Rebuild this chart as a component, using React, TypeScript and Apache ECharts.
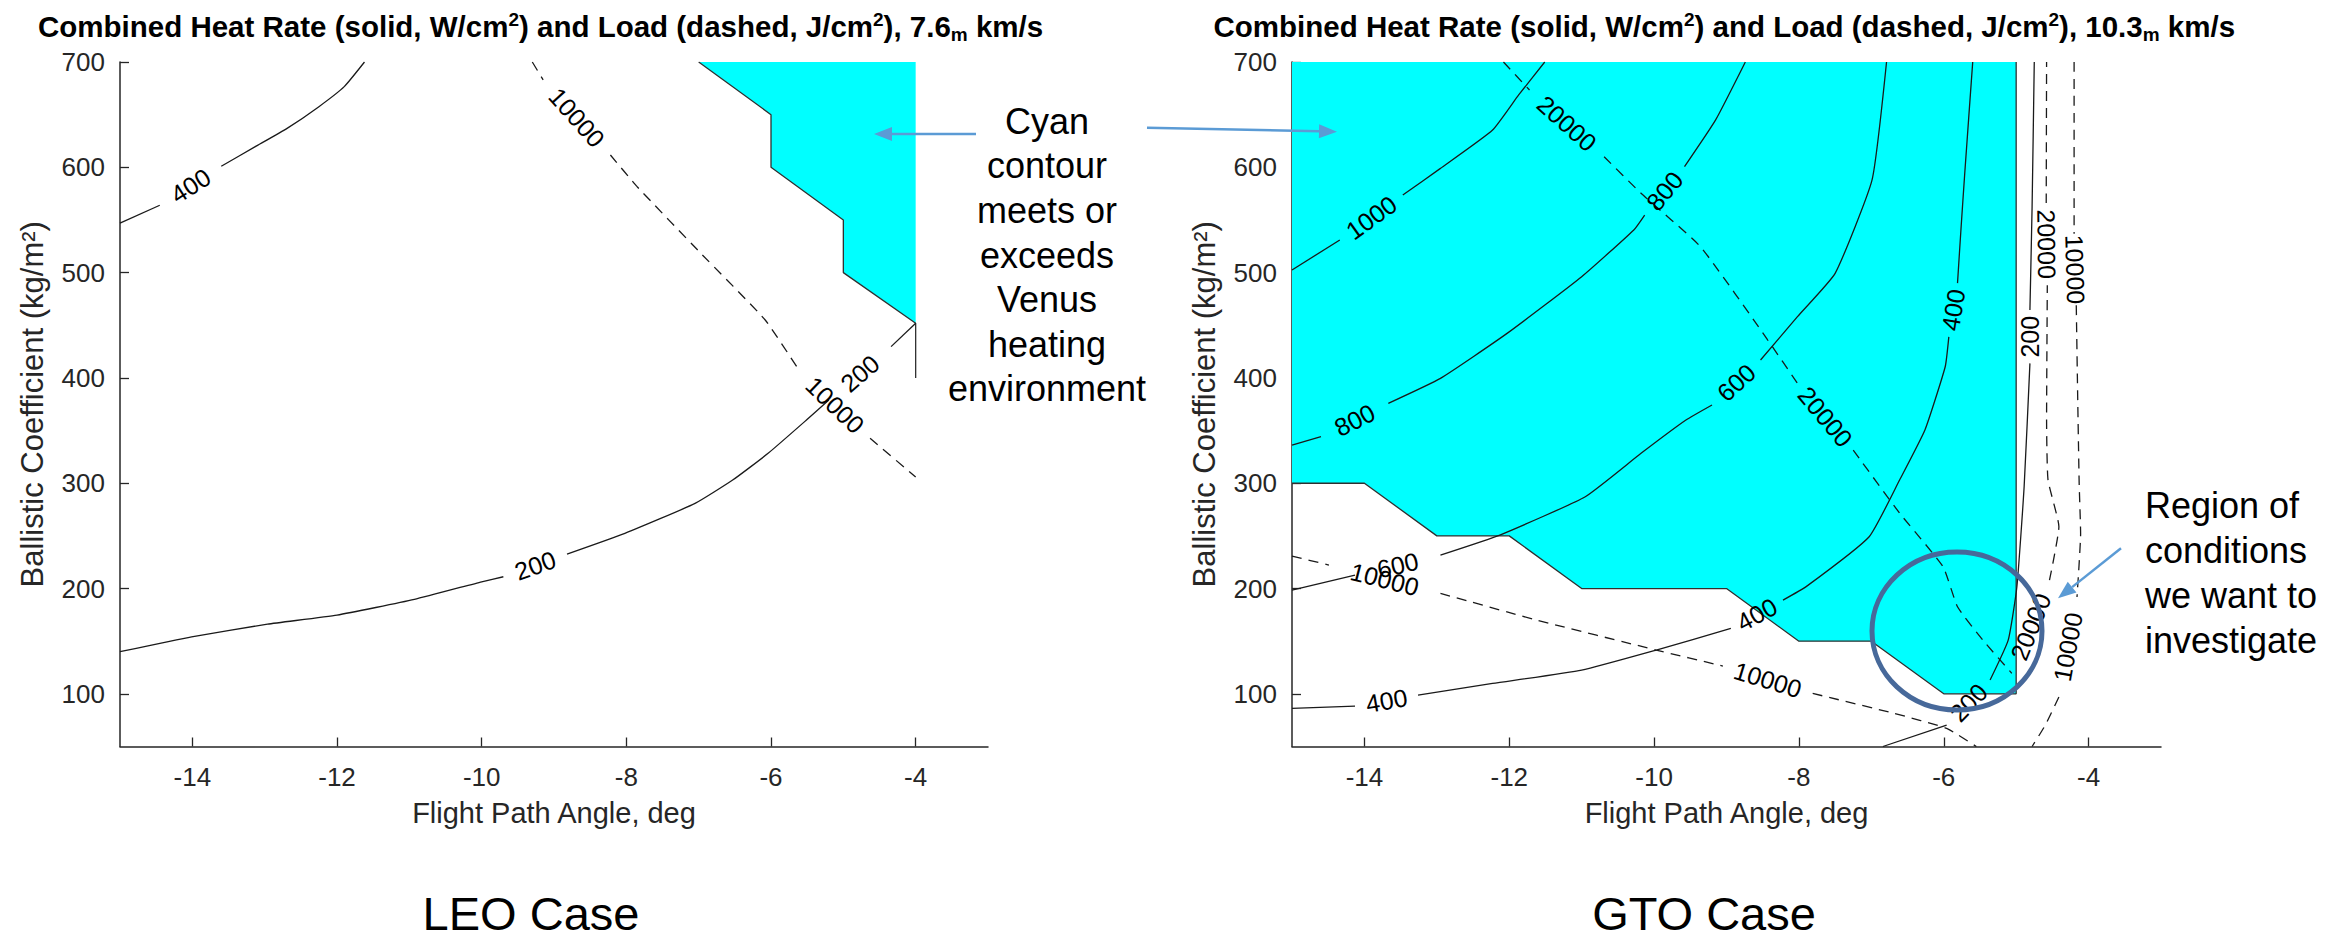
import React, { useEffect, useRef } from "react";
import * as echarts from "echarts";

const FONT = "'Liberation Sans', Arial, Helvetica, sans-serif";

// ---- axis ticks ----
const xTicks = [-14, -12, -10, -8, -6, -4];
const yTicks = [100, 200, 300, 400, 500, 600, 700];

// ---- titles ----
const leoTitle = "Combined Heat Rate (solid, W/cm{sup|2}) and Load (dashed, J/cm{sup|2}), 7.6{sub|m} km/s";
const gtoTitle = "Combined Heat Rate (solid, W/cm{sup|2}) and Load (dashed, J/cm{sup|2}), 10.3{sub|m} km/s";

type P = [number, number] | null;

// ---- LEO case (left) ----
const leoCyan: [number, number][] = [[-7, 700], [-4, 700], [-4, 452], [-5, 500], [-5, 550], [-6, 600], [-6, 650]];
const leoEdge: [number, number][] = [[-7, 700], [-6, 650], [-6, 600], [-5, 550], [-5, 500], [-4, 452], [-4, 400]];
const leoRate400: P[] = [[-15, 547], [-14.45, 564], null, [-13.6, 601], [-13.13, 619.6], [-12.69, 637], [-12.25, 657.6], [-11.9, 676.6], [-11.62, 700]];
const leoRate200: P[] = [[-15, 140], [-14.01, 154.2], [-12.96, 166.2], [-12.0, 174.8], [-10.93, 189.7], [-10.0, 206.4], [-9.7, 211.2], null, [-8.82, 232.7], [-8.02, 252.4], [-7.05, 280.8], [-6.53, 303], [-6.04, 328.4], [-5.51, 360], [-5.2, 379], null, [-4.34, 429.7], [-4, 452]];
const leoLoad10000: P[] = [[-9.3, 700], [-9.15, 683], null, [-8.22, 611.7], [-7.85, 581.6], [-6.97, 518.3], [-6.08, 455], [-5.6, 406], null, [-4.63, 342.6], [-4, 306]];

// ---- GTO case (right) ----
const gtoCyan: [number, number][] = [[-15, 700], [-5, 700], [-5, 100], [-6, 100], [-7, 150], [-8, 150], [-9, 200], [-11, 200], [-12, 250], [-13, 250], [-14, 300], [-15, 300]];
const gtoEdge: [number, number][] = [[-15, 300], [-14, 300], [-13, 250], [-12, 250], [-11, 200], [-9, 200], [-8, 150], [-7, 150], [-6, 100], [-5, 100], [-5, 700]];
const gtoRate1000: P[] = [[-15, 502.5], [-14.34, 531], null, [-13.47, 573.7], [-12.95, 599], [-12.23, 635.4], [-11.87, 668.7], [-11.51, 700]];
const gtoRate800: P[] = [[-15, 336.3], [-14.6, 344.2], null, [-13.67, 375.9], [-12.95, 399.6], [-12.03, 442.3], [-11.0, 496.1], [-10.28, 540.5], [-10.13, 554.7], null, [-9.58, 600.6], [-9.15, 645], [-8.74, 700]];
const gtoRate600: P[] = [[-15, 198.5], [-14.13, 212.8], null, [-12.95, 231.8], [-12.13, 250.8], [-10.95, 287.2], [-10.18, 328.4], [-9.56, 360], [-9.2, 374.3], null, [-8.53, 417], [-8.02, 458.2], [-7.5, 499.3], [-6.99, 588], [-6.79, 700]];
const gtoRate400: P[] = [[-15, 86.2], [-14.13, 88.4], null, [-13.26, 98.8], [-12.23, 109.9], [-11.0, 122.6], [-9.97, 141.6], [-8.94, 162.1], null, [-8.22, 189], [-7.9, 201.8], [-7.03, 249.2], [-6.61, 303], [-6.26, 350.5], [-5.98, 410.6], [-5.93, 439], null, [-5.81, 490], [-5.76, 543.6], [-5.71, 594.3], [-5.6, 700]];
const gtoRate200: P[] = [[-6.84, 50], [-5.96, 70.3], null, [-5.36, 113.1], [-5.11, 151], [-4.99, 201.7], [-4.89, 296.6], [-4.81, 413.8], null, [-4.81, 464.5], [-4.78, 562.6], [-4.75, 700]];
const gtoLoad20000: P[] = [[-12.08, 700], [-11.72, 673.4], null, [-10.69, 610.1], [-10.18, 575.3], [-9.36, 524.6], [-8.43, 436], [-8.02, 394.8], null, [-7.25, 331.5], [-6.61, 271.6], [-6.01, 220.7], [-5.81, 182.7], [-5.46, 151], [-5.06, 119.5], null, [-4.54, 208], [-4.41, 258.7], [-4.56, 303], [-4.58, 360], [-4.57, 488], null, [-4.585, 566], [-4.58, 700]];
const gtoLoad10000v: P[] = [[-4.2, 700], [-4.2, 537], null, [-4.17, 469], [-4.15, 380], [-4.13, 300], [-4.11, 252], [-4.16, 192], null, [-4.41, 97], [-4.6, 70], [-4.78, 50]];
const gtoLoad10000: P[] = [[-15, 230.8], [-14.49, 222.3], null, [-12.95, 195.4], [-11.62, 170], [-9.97, 141.6], [-9.05, 126.4], null, [-7.81, 100.4], [-6.68, 81.4], [-5.96, 67.2], [-5.55, 50]];

const regions = [
  { grid: 0, pts: leoCyan, edge: leoEdge },
  { grid: 1, pts: gtoCyan, edge: gtoEdge },
];

const contourDefs = [
  { grid: 0, level: "400", dashed: false, pts: leoRate400 },
  { grid: 0, level: "200", dashed: false, pts: leoRate200 },
  { grid: 0, level: "10000", dashed: true, pts: leoLoad10000 },
  { grid: 1, level: "1000", dashed: false, pts: gtoRate1000 },
  { grid: 1, level: "800", dashed: false, pts: gtoRate800 },
  { grid: 1, level: "600", dashed: false, pts: gtoRate600 },
  { grid: 1, level: "400", dashed: false, pts: gtoRate400 },
  { grid: 1, level: "200", dashed: false, pts: gtoRate200 },
  { grid: 1, level: "20000", dashed: true, pts: gtoLoad20000 },
  { grid: 1, level: "10000", dashed: true, pts: gtoLoad10000v },
  { grid: 1, level: "10000", dashed: true, pts: gtoLoad10000 },
];

const cyanNote = "Cyan\ncontour\nmeets or\nexceeds\nVenus\nheating\nenvironment";
const regionNote = "Region of\nconditions\nwe want to\ninvestigate";

function splitSegments(pts: P[]): [number, number][][] {
  const segs: [number, number][][] = [];
  let cur: [number, number][] = [];
  pts.forEach((p) => {
    if (p === null) {
      if (cur.length) segs.push(cur);
      cur = [];
    } else cur.push(p);
  });
  if (cur.length) segs.push(cur);
  return segs;
}

function arrow(x1: number, y1: number, x2: number, y2: number) {
  const color = "#5b9bd5";
  const ang = Math.atan2(y2 - y1, x2 - x1);
  const hl = 18, hw = 7;
  const bx = x2 - hl * Math.cos(ang), by = y2 - hl * Math.sin(ang);
  const nx = -Math.sin(ang) * hw, ny = Math.cos(ang) * hw;
  return [
    { type: "line", z: 20, shape: { x1, y1, x2: bx, y2: by }, style: { stroke: color, lineWidth: 2.5 } },
    { type: "polygon", z: 20, shape: { points: [[x2, y2], [bx + nx, by + ny], [bx - nx, by - ny]] }, style: { fill: color } },
  ];
}

const axisColor = "#262626";

function makeX(g: number) {
  return {
    type: "value", gridIndex: g, min: -15, max: -3,
    axisLine: { show: true, onZero: false, lineStyle: { color: axisColor, width: 1.5 } },
    axisTick: { show: true, inside: true, length: 9, customValues: xTicks, lineStyle: { color: axisColor, width: 1.3 } },
    axisLabel: { customValues: xTicks, fontSize: 26, color: axisColor, margin: 17, fontFamily: FONT },
    splitLine: { show: false },
    name: "Flight Path Angle, deg", nameLocation: "middle", nameGap: 52,
    nameTextStyle: { fontSize: 29, color: axisColor, fontFamily: FONT },
  };
}
function makeY(g: number) {
  return {
    type: "value", gridIndex: g, min: 50, max: 700,
    axisLine: { show: true, onZero: false, lineStyle: { color: axisColor, width: 1.5 } },
    axisTick: { show: true, inside: true, length: 9, customValues: yTicks, lineStyle: { color: axisColor, width: 1.3 } },
    axisLabel: { customValues: yTicks, fontSize: 26, color: axisColor, margin: 15, fontFamily: FONT },
    splitLine: { show: false },
    name: "Ballistic Coefficient (kg/m²)", nameLocation: "middle", nameGap: 72, nameRotate: 90,
    nameTextStyle: { fontSize: 31, color: axisColor, fontFamily: FONT },
  };
}

export default function App() {
  const ref = useRef<HTMLDivElement>(null);
  useEffect(() => {
    if (!ref.current) return;
    const chart = echarts.init(ref.current, null, { renderer: "svg" });
    const series: any[] = [];
    regions.forEach((r) => {
      series.push({
        type: "custom", xAxisIndex: r.grid, yAxisIndex: r.grid, data: r.pts, z: 1, silent: true,
        renderItem: (params: any, api: any) => {
          if (params.dataIndex !== 0) return null;
          return { type: "polygon", shape: { points: r.pts.map((p) => api.coord(p)) }, style: { fill: "#00FFFF" } };
        },
      });
      series.push({
        type: "line", xAxisIndex: r.grid, yAxisIndex: r.grid, data: r.edge, symbol: "none", silent: true, z: 2,
        lineStyle: { color: "#303030", width: 1.3 },
      });
    });
    contourDefs.forEach((c) => {
      splitSegments(c.pts).forEach((seg) => {
        series.push({
          type: "line", xAxisIndex: c.grid, yAxisIndex: c.grid, data: seg, symbol: "none", smooth: 0.15,
          silent: true, z: 3,
          lineStyle: { color: "#1a1a1a", width: 1.3, type: c.dashed ? [10, 7] : "solid" },
        });
      });
    });

    chart.setOption({
      animation: false,
      backgroundColor: "#ffffff",
      textStyle: { fontFamily: FONT },
      grid: [
        { left: 120, top: 62, width: 868, height: 684.5, containLabel: false, outerBoundsMode: "none" },
        { left: 1292, top: 62, width: 869, height: 684.5, containLabel: false, outerBoundsMode: "none" },
      ],
      xAxis: [makeX(0), makeX(1)],
      yAxis: [makeY(0), makeY(1)],
      series,
    });

    const graphics: any[] = [];
    // contour labels, placed in the gaps of each contour line
    contourDefs.forEach((c) => {
      const segs = splitSegments(c.pts);
      for (let i = 0; i < segs.length - 1; i++) {
        const p1 = segs[i][segs[i].length - 1];
        const p2 = segs[i + 1][0];
        const a = chart.convertToPixel({ xAxisIndex: c.grid, yAxisIndex: c.grid } as any, p1) as number[];
        const b = chart.convertToPixel({ xAxisIndex: c.grid, yAxisIndex: c.grid } as any, p2) as number[];
        let ang = Math.atan2(-(b[1] - a[1]), b[0] - a[0]);
        if (ang > Math.PI / 2 + 1e-9) ang -= Math.PI;
        else if (ang <= -Math.PI / 2) ang += Math.PI;
        graphics.push({
          type: "text", x: (a[0] + b[0]) / 2, y: (a[1] + b[1]) / 2, rotation: ang, z: 10, silent: true,
          style: { text: c.level, fontSize: 25, fontFamily: FONT, fill: "#000", align: "center", verticalAlign: "middle" },
        });
      }
    });

    const titleStyle = (text: string, x: number) => ({
      type: "text", x, y: 9.8, z: 10, silent: true,
      style: {
        text, fontSize: 29.5, fontWeight: "bold", fontFamily: FONT, lineHeight: 34, fill: "#000",
        align: "left", verticalAlign: "top",
        rich: {
          sup: { fontSize: 19, fontWeight: "bold", fontFamily: FONT, lineHeight: 17, verticalAlign: "top", fill: "#000" },
          sub: { fontSize: 19, fontWeight: "bold", fontFamily: FONT, lineHeight: 15, verticalAlign: "bottom", fill: "#000" },
        },
      },
    });
    graphics.push(titleStyle(leoTitle, 38));
    graphics.push(titleStyle(gtoTitle, 1213.5));

    graphics.push({
      type: "text", x: 1047, y: 99, z: 20, silent: true,
      style: { text: cyanNote, fontSize: 36, fontFamily: FONT, lineHeight: 44.6, fill: "#000", align: "center", verticalAlign: "top" },
    });
    graphics.push({
      type: "text", x: 2145, y: 483, z: 20, silent: true,
      style: { text: regionNote, fontSize: 36, fontFamily: FONT, lineHeight: 45, fill: "#000", align: "left", verticalAlign: "top" },
    });
    graphics.push({
      type: "text", x: 531, y: 913, z: 20, silent: true,
      style: { text: "LEO Case", fontSize: 47, fontFamily: FONT, fill: "#000", align: "center", verticalAlign: "middle" },
    });
    graphics.push({
      type: "text", x: 1704, y: 913, z: 20, silent: true,
      style: { text: "GTO Case", fontSize: 47, fontFamily: FONT, fill: "#000", align: "center", verticalAlign: "middle" },
    });
    graphics.push(...arrow(976, 134, 874, 134));
    graphics.push(...arrow(1147, 127.7, 1337, 131.7));
    graphics.push(...arrow(2121, 548.3, 2058, 598.3));
    graphics.push({
      type: "ellipse", z: 20, silent: true,
      shape: { cx: 1957, cy: 631, rx: 85, ry: 79 },
      style: { fill: "none", stroke: "#47699a", lineWidth: 5 },
    });

    chart.setOption({ graphic: graphics });

    return () => chart.dispose();
  }, []);

  return <div ref={ref} style={{ position: "absolute", left: 0, top: 0, width: 2346, height: 941 }} />;
}
